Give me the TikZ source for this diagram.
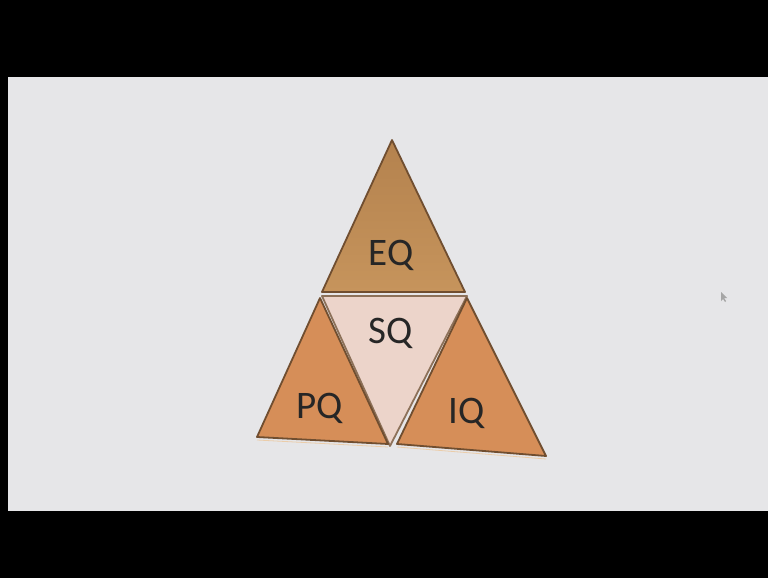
\documentclass[tikz,border=0pt]{standalone}
\usepackage{fontspec}
\setmainfont{Carlito}
\definecolor{bgc}{RGB}{230,230,232}
\definecolor{eqc}{RGB}{198,148,92}
\definecolor{eqtop}{RGB}{180,130,78}
\definecolor{pqc}{RGB}{214,142,88}
\definecolor{sqc}{RGB}{236,212,202}
\definecolor{edgec}{RGB}{112,78,48}
\definecolor{litec}{RGB}{235,205,170}
\begin{document}
\begin{tikzpicture}[x=1pt,y=-1pt,
  tri/.style={draw=edgec,line width=1.8pt,line join=round},
  lbl/.style={font=\fontsize{39}{39}\selectfont,text=black!85,anchor=base,inner sep=0pt}]
\useasboundingbox (0,0) rectangle (768,578);
\fill[black] (0,0) rectangle (768,578);
\fill[bgc] (8,77) rectangle (768,511);
% coordinates
\coordinate (A) at (392,140);
\coordinate (EL) at (322,292);
\coordinate (ER) at (465,292);
\coordinate (SL) at (322,296);
\coordinate (SR) at (467,296);
\coordinate (SB) at (390,446);
\coordinate (PA) at (320,298);
\coordinate (PL) at (257,437);
\coordinate (PR) at (388,444);
\coordinate (IA) at (467,298);
\coordinate (IL) at (397,444);
\coordinate (IR) at (546,456);
% triangles
\shade[top color=eqtop,bottom color=eqc] (A) -- (ER) -- (EL) -- cycle;
\draw[tri] (A) -- (ER) -- (EL) -- cycle;
\fill[sqc] (SL) -- (SR) -- (SB) -- cycle;
\draw[tri,draw=edgec!80] (SL) -- (SR) -- (SB) -- cycle;
\fill[pqc] (PA) -- (PR) -- (PL) -- cycle;
\draw[tri] (PA) -- (PR) -- (PL) -- cycle;
\fill[pqc] (IA) -- (IR) -- (IL) -- cycle;
\draw[tri] (IA) -- (IR) -- (IL) -- cycle;
\draw[litec,line width=0.8pt] ([yshift=-3]PL) -- ([yshift=-3]PR);
\draw[litec,line width=0.8pt] ([yshift=-3]IL) -- ([yshift=-3]IR);
% labels
\node[lbl] (eq) at (391,265) {EQ};
\node[lbl] (sq) at (391,343) {SQ};
\node[lbl] (pq) at (320,418) {PQ};
\node[lbl] (iq) at (467,423) {IQ};
% cursor
\fill[black!35] (721,292) -- (721,301) -- (723,299) -- (725,302) -- (726,301) -- (724,298) -- (727,298) -- cycle;
\end{tikzpicture}
\end{document}
